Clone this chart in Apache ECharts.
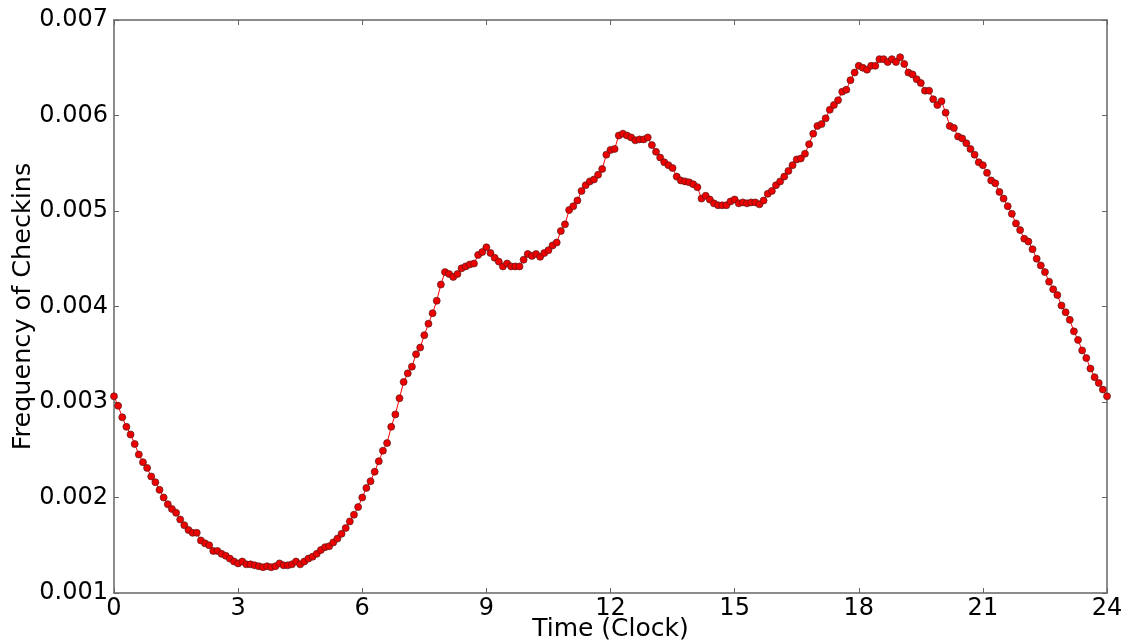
<!DOCTYPE html>
<html>
<head>
<meta charset="utf-8">
<title>Frequency of Checkins</title>
<script src="https://cdn.jsdelivr.net/npm/echarts@6/dist/echarts.min.js"></script>
<style>
  html, body { margin: 0; padding: 0; background: #ffffff; overflow: hidden; }
  #chart { width: 1128px; height: 644px; }
</style>
</head>
<body>
<div id="chart"></div>
<script>
// Check-in frequency sampled every 6 minutes (0.1 h) over one day, 0:00 to 24:00
const TIME_STEP_HOURS = 0.1;
const checkinFreq = [
  0.00306, 0.00296, 0.00284, 0.00274, 0.00266, 0.00256, 0.00245, 0.00237, 0.00231, 0.00222,
  0.00216, 0.00208, 0.00200, 0.00193, 0.00188, 0.00184, 0.00177, 0.00171, 0.00166, 0.00163,
  0.00163, 0.00155, 0.00152, 0.00150, 0.00144, 0.00144, 0.00141, 0.00139, 0.00136, 0.00133,
  0.00131, 0.00133, 0.00130, 0.00130, 0.00129, 0.00128, 0.00127, 0.00128, 0.00127, 0.00128,
  0.00131, 0.00129, 0.00129, 0.00130, 0.00133, 0.00130, 0.00133, 0.00136, 0.00138, 0.00141,
  0.00145, 0.00148, 0.00149, 0.00153, 0.00157, 0.00162, 0.00168, 0.00175, 0.00182, 0.00190,
  0.00200, 0.00210, 0.00217, 0.00227, 0.00238, 0.00249, 0.00257, 0.00274, 0.00287, 0.00304,
  0.00321, 0.00330, 0.00337, 0.00350, 0.00357, 0.00370, 0.00382, 0.00393, 0.00406, 0.00423,
  0.00436, 0.00434, 0.00431, 0.00434, 0.00440, 0.00442, 0.00444, 0.00445, 0.00454, 0.00457,
  0.00462, 0.00456, 0.00451, 0.00447, 0.00442, 0.00445, 0.00442, 0.00442, 0.00442, 0.00449,
  0.00455, 0.00453, 0.00455, 0.00452, 0.00456, 0.00459, 0.00464, 0.00467, 0.00479, 0.00486,
  0.00501, 0.00505, 0.00511, 0.00521, 0.00527, 0.00531, 0.00533, 0.00538, 0.00544, 0.00559,
  0.00564, 0.00565, 0.00579, 0.00581, 0.00579, 0.00577, 0.00574, 0.00575, 0.00575, 0.00577,
  0.00569, 0.00562, 0.00556, 0.00551, 0.00548, 0.00545, 0.00536, 0.00532, 0.00531, 0.00530,
  0.00528, 0.00525, 0.00513, 0.00516, 0.00512, 0.00508, 0.00506, 0.00506, 0.00506, 0.00510,
  0.00512, 0.00508, 0.00509, 0.00508, 0.00509, 0.00509, 0.00507, 0.00511, 0.00518, 0.00521,
  0.00527, 0.00531, 0.00536, 0.00542, 0.00548, 0.00554, 0.00555, 0.00560, 0.00570, 0.00581,
  0.00589, 0.00591, 0.00597, 0.00606, 0.00611, 0.00616, 0.00625, 0.00627, 0.00637, 0.00645,
  0.00652, 0.00650, 0.00648, 0.00652, 0.00652, 0.00659, 0.00659, 0.00656, 0.00659, 0.00656,
  0.00661, 0.00654, 0.00645, 0.00643, 0.00638, 0.00634, 0.00626, 0.00626, 0.00617, 0.00611,
  0.00615, 0.00603, 0.00589, 0.00587, 0.00578, 0.00576, 0.00571, 0.00565, 0.00559, 0.00551,
  0.00548, 0.00540, 0.00532, 0.00529, 0.00520, 0.00513, 0.00505, 0.00497, 0.00487, 0.00480,
  0.00471, 0.00468, 0.00460, 0.00450, 0.00443, 0.00436, 0.00426, 0.00418, 0.00412, 0.00401,
  0.00394, 0.00386, 0.00374, 0.00365, 0.00354, 0.00346, 0.00335, 0.00326, 0.00320, 0.00313,
  0.00306
];

const xTicks = [0, 3, 6, 9, 12, 15, 18, 21, 24];
const yTicks = [0.001, 0.002, 0.003, 0.004, 0.005, 0.006, 0.007];

const xTitle = 'Time (Clock)';
const yTitle = 'Frequency of Checkins';

const points = checkinFreq.map((v, i) => [+(i * TIME_STEP_HOURS).toFixed(1), v]);

const FONT = 'DejaVu Sans';
const frameColor = '#666666';
const GRID = { left: 114, right: 21, top: 20, bottom: 51 };
const W = 1128, H = 644;

function xAxisBase(extra) {
  return Object.assign({
    type: 'value',
    min: xTicks[0],
    max: xTicks[xTicks.length - 1],
    interval: xTicks[1] - xTicks[0],
    axisLine: { show: true, onZero: false, lineStyle: { color: frameColor, width: 1.5 } },
    axisTick: { show: true, inside: true, length: 5, lineStyle: { color: frameColor, width: 1 } },
    splitLine: { show: false }
  }, extra);
}

function yAxisBase(extra) {
  return Object.assign({
    type: 'value',
    min: yTicks[0],
    max: yTicks[yTicks.length - 1],
    interval: 0.001,
    axisLine: { show: true, onZero: false, lineStyle: { color: frameColor, width: 1.5 } },
    axisTick: { show: true, inside: true, length: 5, lineStyle: { color: frameColor, width: 1 } },
    splitLine: { show: false }
  }, extra);
}

const chart = echarts.init(document.getElementById('chart'), null, { renderer: 'canvas' });

chart.setOption({
  animation: false,
  backgroundColor: '#ffffff',
  grid: Object.assign({ containLabel: false, outerBoundsMode: 'none' }, GRID),
  xAxis: [
    xAxisBase({
      position: 'bottom',
      axisLabel: {
        show: true, margin: 4,
        fontFamily: FONT, fontSize: 24, color: '#000000',
        formatter: v => String(v)
      }
    }),
    xAxisBase({ position: 'top', axisLabel: { show: false } })
  ],
  yAxis: [
    yAxisBase({
      position: 'left',
      axisLabel: {
        show: true, margin: 6,
        fontFamily: FONT, fontSize: 24, color: '#000000',
        formatter: v => v.toFixed(3)
      }
    }),
    yAxisBase({ position: 'right', axisLabel: { show: false } })
  ],
  // axis titles
  graphic: [
    {
      type: 'text',
      x: (GRID.left + (W - GRID.right)) / 2,
      y: 629,
      style: {
        text: xTitle, fontFamily: FONT, fontSize: 25, fill: '#000000',
        align: 'center', verticalAlign: 'middle'
      }
    },
    {
      type: 'text',
      x: 23,
      y: (GRID.top + (H - GRID.bottom)) / 2,
      rotation: Math.PI / 2,
      style: {
        text: yTitle, fontFamily: FONT, fontSize: 25.5, fill: '#000000',
        align: 'center', verticalAlign: 'middle'
      }
    }
  ],
  series: [{
    type: 'line',
    data: points,
    xAxisIndex: 0,
    yAxisIndex: 0,
    symbol: 'circle',
    symbolSize: 7,
    showAllSymbol: true,
    lineStyle: { color: '#ff0000', width: 1 },
    itemStyle: { color: '#ee0000', borderColor: '#5a1a1a', borderWidth: 0.7 },
    emphasis: { disabled: true },
    z: 3
  }]
});
</script>
</body>
</html>
